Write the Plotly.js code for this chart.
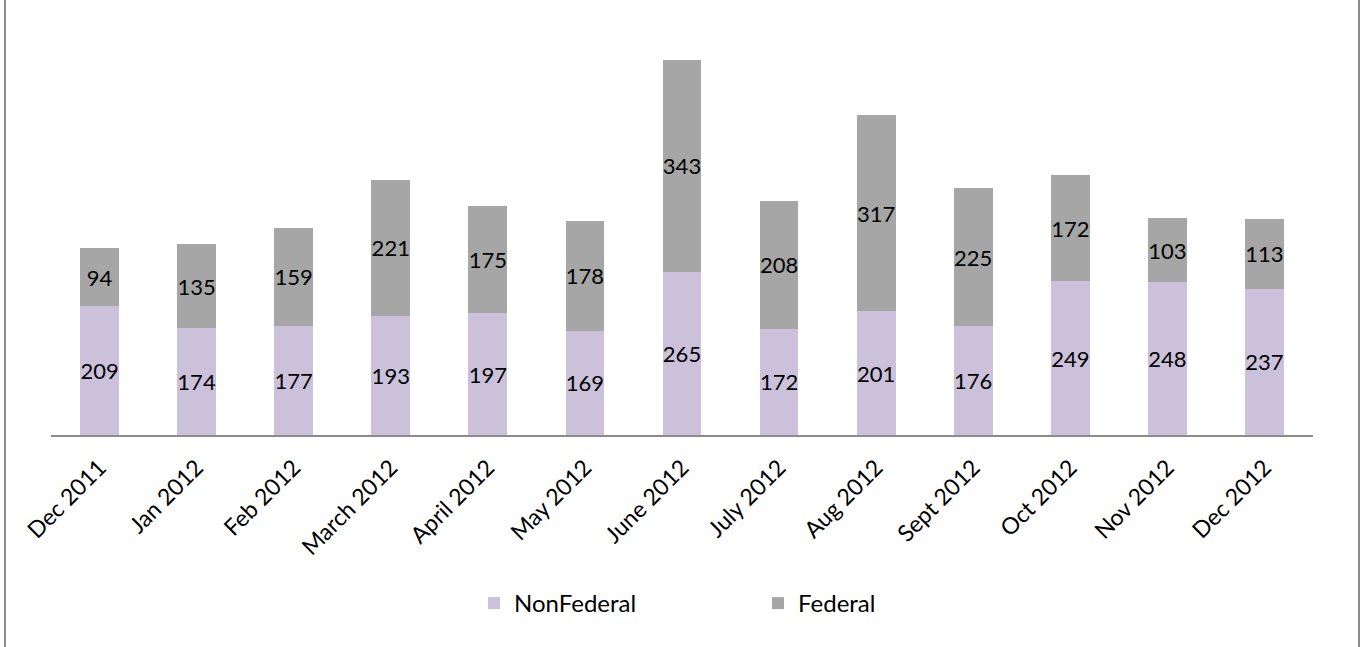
<!DOCTYPE html>
<html>
<head>
<meta charset="utf-8">
<script src="https://cdn.plot.ly/plotly-3.0.1.min.js"></script>
<style>html,body{margin:0;padding:0;background:#fff;}#chart{width:1367px;height:647px;}</style>
</head>
<body>
<div id="chart"></div>
<script>
const categories = ["Dec 2011","Jan 2012","Feb 2012","March 2012","April 2012","May 2012","June 2012","July 2012","Aug 2012","Sept 2012","Oct 2012","Nov 2012","Dec 2012"];
const nonFederal = [209,174,177,193,197,169,265,172,201,176,249,248,237];
const federal = [94,135,159,221,175,178,343,208,317,225,172,103,113];

const font = "Lato, 'Open Sans', sans-serif";
const common = {
  type: 'bar',
  x: categories,
  textposition: 'inside',
  insidetextanchor: 'middle',
  textangle: 0,
  constraintext: 'none',
  textfont: {family: font, size: 22, color: '#000'},
  hoverinfo: 'skip'
};
const traces = [
  Object.assign({}, common, {name: 'NonFederal', y: nonFederal, text: nonFederal.map(String), marker: {color: '#CCC1DA'}}),
  Object.assign({}, common, {name: 'Federal', y: federal, text: federal.map(String), marker: {color: '#A6A6A6'}})
];
const L = 51, R = 54, T = 10, B = 212, W = 1367, H = 647;
const pw = W - L - R, ph = H - T - B;
const px2x = p => (p - L) / pw;
const py2y = p => (H - B - p) / ph;
const layout = {
  width: W, height: H,
  margin: {l: L, r: R, t: T, b: B, pad: 0},
  barmode: 'stack',
  bargap: 0.6,
  paper_bgcolor: '#fff',
  plot_bgcolor: '#fff',
  showlegend: true,
  legend: {
    orientation: 'h', x: px2x(474), xanchor: 'left', y: py2y(581), yanchor: 'top',
    font: {family: font, size: 24, color: '#000'},
    entrywidth: 239, bgcolor: 'rgba(0,0,0,0)', traceorder: 'normal'
  },
  xaxis: {
    type: 'category', categoryorder: 'array', categoryarray: categories,
    tickangle: -45, tickfont: {family: font, size: 23, color: '#000'},
    ticklabelstandoff: 8,
    showline: true, linecolor: '#8c8c8c', linewidth: 2, ticks: '', showgrid: false, zeroline: false,
    fixedrange: true
  },
  yaxis: {
    range: [0, 689], visible: false, showgrid: false, zeroline: false, fixedrange: true
  },
  shapes: [
    {type: 'line', xref: 'paper', yref: 'paper', x0: px2x(5), x1: px2x(5), y0: py2y(0), y1: py2y(H), line: {color: '#8c8c8c', width: 2}},
    {type: 'line', xref: 'paper', yref: 'paper', x0: px2x(1359), x1: px2x(1359), y0: py2y(0), y1: py2y(H), line: {color: '#8c8c8c', width: 2}}
  ]
};
Plotly.newPlot('chart', traces, layout, {displayModeBar: false, staticPlot: true});
</script>
</body>
</html>
